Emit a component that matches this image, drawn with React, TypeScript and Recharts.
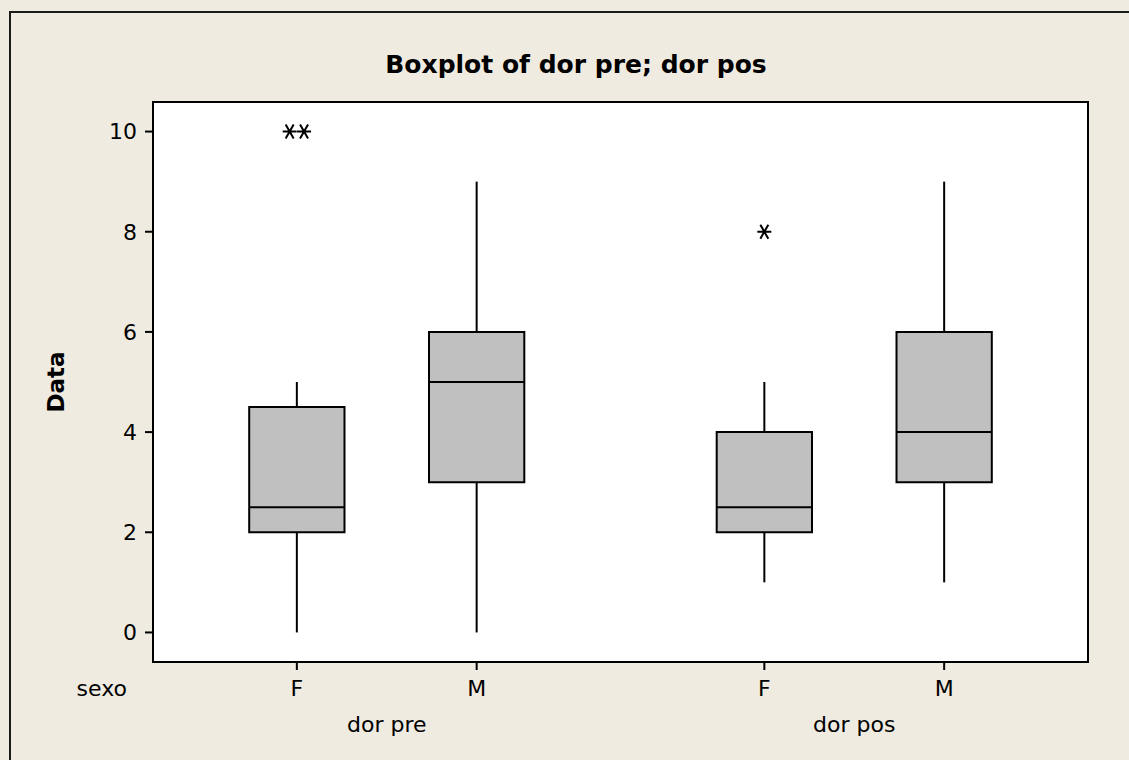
import React from 'react';
import { ComposedChart, XAxis, YAxis, ReferenceArea, ReferenceLine, Scatter, Label } from 'recharts';

// ---- data ----
const groupLabels = ['dor pre', 'dor pos'];
const sexoLabels = ['F', 'M', 'F', 'M'];
const q1Values = [2, 3, 2, 3];
const medianValues = [2.5, 5, 2.5, 4];
const q3Values = [4.5, 6, 4, 6];
const whiskerLow = [0, 0, 1, 1];
const whiskerHigh = [5, 9, 5, 9];
const outlierValues: number[][] = [[10, 10], [], [8], []];
const yTicks = [0, 2, 4, 6, 8, 10];

// ---- layout ----
const slotPos = [1, 2, 3.6, 4.6];
const groupPos = [1.5, 4.1];
const halfBox = 0.265;
const dupOffset = 0.04;
const xDomain: [number, number] = [0.2, 5.4];
const yDomain: [number, number] = [-0.59, 10.59];

const FONT = "'DejaVu Sans', Verdana, sans-serif";
const BG = '#EFEBE1';
const BOX_FILL = '#C0C0C0';

const outlierData = outlierValues.flatMap((vals, i) =>
  vals.map((v, j) => ({ x: slotPos[i] + (vals.length > 1 ? (j - (vals.length - 1) / 2) * 2 * dupOffset : 0), y: v }))
);
const groupAnchorData = groupPos.map((g) => ({ x: g, y: 0 }));

const Asterisk = (props: any) => {
  const { cx, cy } = props;
  if (cx == null || cy == null) return <g />;
  return (
    <path
      d={`M${cx - 7},${cy}H${cx + 7}M${cx - 4},${cy - 7}L${cx + 4},${cy + 7}M${cx + 4},${cy - 7}L${cx - 4},${cy + 7}`}
      stroke="#000"
      strokeWidth={2}
      fill="none"
    />
  );
};

const Empty = () => <g />;

const SexoLabel = (props: any) => {
  const vb = props.viewBox || {};
  return (
    <text x={vb.x - 26} y={vb.y + 34} textAnchor="end" fontSize={22} fontFamily={FONT} fill="#000">
      sexo
    </text>
  );
};

const DataLabel = (props: any) => {
  const vb = props.viewBox || {};
  const x = vb.x - 37;
  const y = vb.y + vb.height / 2;
  return (
    <text
      x={x}
      y={y}
      transform={`rotate(-90, ${x}, ${y})`}
      textAnchor="middle"
      dominantBaseline="central"
      fontSize={23}
      fontWeight="bold"
      fontFamily={FONT}
      fill="#000"
    >
      Data
    </text>
  );
};

export default function App() {
  return (
    <div
      style={{
        position: 'absolute',
        left: 0,
        top: 0,
        width: 1129,
        height: 760,
        background: BG,
        overflow: 'hidden',
        fontFamily: FONT,
      }}
    >
      <div
        style={{
          position: 'absolute',
          left: 9,
          top: 11,
          width: 1200,
          height: 800,
          borderLeft: '2px solid #1a1a1a',
          borderTop: '2px solid #1a1a1a',
        }}
      />
      <div
        style={{
          position: 'absolute',
          left: 576,
          top: 52,
          transform: 'translateX(-50%)',
          fontSize: 25,
          lineHeight: '25px',
          fontWeight: 'bold',
          whiteSpace: 'nowrap',
          color: '#000',
        }}
      >
        Boxplot of dor pre; dor pos
      </div>
      <div style={{ position: 'absolute', left: 0, top: 0 }}>
        <ComposedChart width={1129} height={760} margin={{ top: 102, right: 41, left: 93, bottom: 6 }}>
          <XAxis
            xAxisId={0}
            type="number"
            dataKey="x"
            domain={xDomain}
            ticks={slotPos}
            allowDataOverflow
            interval={0}
            height={52}
            tickSize={8}
            tickMargin={10}
            axisLine={false}
            tickLine={{ stroke: '#000', strokeWidth: 2 }}
            tick={{ fill: '#000', fontSize: 22, fontFamily: FONT }}
            tickFormatter={(_v: number, i: number) => sexoLabels[i]}
          >
            <Label content={SexoLabel} />
          </XAxis>
          <XAxis
            xAxisId="grp"
            type="number"
            dataKey="x"
            domain={xDomain}
            ticks={groupPos}
            allowDataOverflow
            interval={0}
            height={40}
            tickSize={0}
            tickMargin={2}
            axisLine={false}
            tickLine={false}
            tick={{ fill: '#000', fontSize: 22, fontFamily: FONT }}
            tickFormatter={(_v: number, i: number) => groupLabels[i]}
          />
          <YAxis
            type="number"
            dataKey="y"
            domain={yDomain}
            ticks={yTicks}
            allowDataOverflow
            interval={0}
            width={60}
            tickSize={8}
            tickMargin={8}
            axisLine={false}
            tickLine={{ stroke: '#000', strokeWidth: 2 }}
            tick={{ fill: '#000', fontSize: 22, fontFamily: FONT }}
          >
            <Label content={DataLabel} />
          </YAxis>

          <ReferenceArea
            x1={xDomain[0]}
            x2={xDomain[1]}
            y1={yDomain[0]}
            y2={yDomain[1]}
            fill="#fff"
            fillOpacity={1}
            stroke="#000"
            strokeWidth={2}
            ifOverflow="visible"
          />

          {slotPos.map((p, i) => (
            <ReferenceLine
              key={`wl${i}`}
              segment={[{ x: p, y: whiskerLow[i] }, { x: p, y: q1Values[i] }]}
              stroke="#000"
              strokeWidth={2}
            />
          ))}
          {slotPos.map((p, i) => (
            <ReferenceLine
              key={`wh${i}`}
              segment={[{ x: p, y: q3Values[i] }, { x: p, y: whiskerHigh[i] }]}
              stroke="#000"
              strokeWidth={2}
            />
          ))}
          {slotPos.map((p, i) => (
            <ReferenceArea
              key={`box${i}`}
              x1={p - halfBox}
              x2={p + halfBox}
              y1={q1Values[i]}
              y2={q3Values[i]}
              fill={BOX_FILL}
              fillOpacity={1}
              stroke="#000"
              strokeWidth={2}
            />
          ))}
          {slotPos.map((p, i) => (
            <ReferenceLine
              key={`md${i}`}
              segment={[{ x: p - halfBox, y: medianValues[i] }, { x: p + halfBox, y: medianValues[i] }]}
              stroke="#000"
              strokeWidth={2}
            />
          ))}

          <Scatter data={outlierData} dataKey="y" shape={<Asterisk />} isAnimationActive={false} />
          <Scatter xAxisId="grp" data={groupAnchorData} dataKey="y" shape={<Empty />} isAnimationActive={false} />
        </ComposedChart>
      </div>
    </div>
  );
}
